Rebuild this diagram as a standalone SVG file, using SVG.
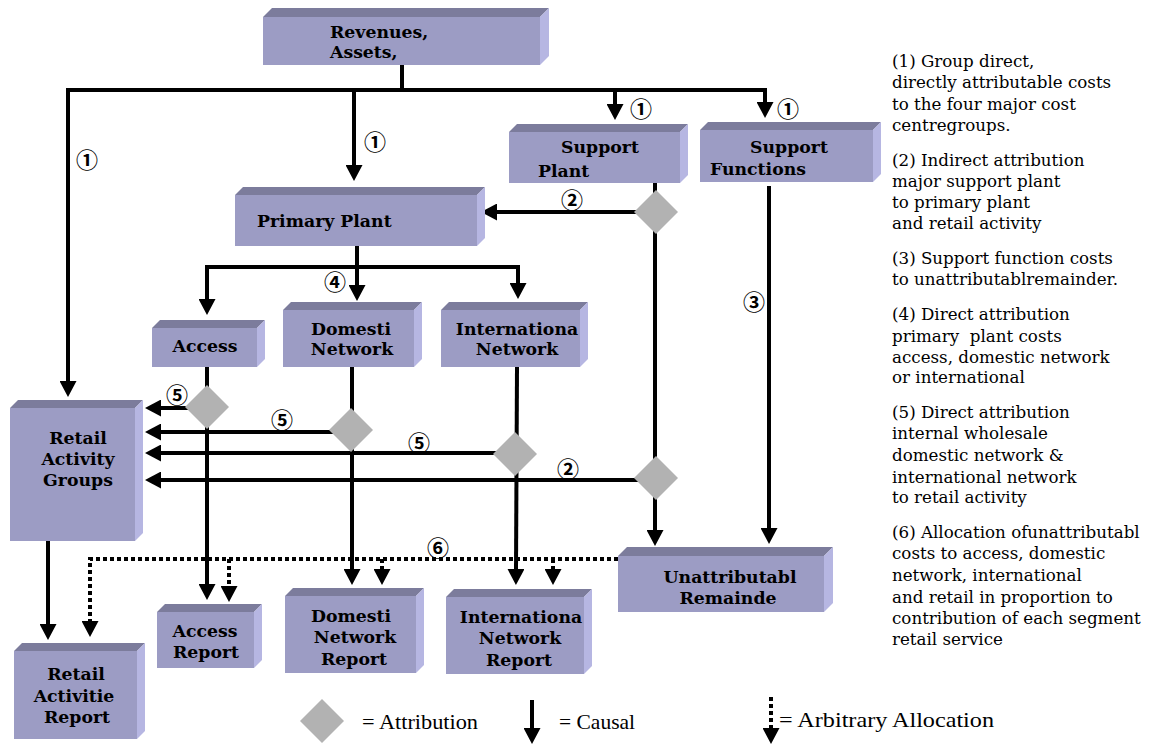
<svg xmlns="http://www.w3.org/2000/svg" width="1151" height="744" viewBox="0 0 1151 744">
<style>
.front{fill:#9c9cc4}
.top{fill:#7c7c9c}
.side{fill:#b6b6e2}
.lbl{font-family:"DejaVu Serif","Liberation Serif",serif;font-weight:bold;font-size:17.3px;fill:#000}
.ln{stroke:#000;stroke-width:4;fill:none;stroke-linejoin:miter}
.dot{stroke:#000;stroke-width:4;fill:none;stroke-dasharray:4 3}
.dia{fill:#b2b2b2}
.num{font-family:"Noto Sans CJK JP","DejaVu Sans",sans-serif;font-size:22px;font-weight:bold;fill:#000}
.note{font-family:"DejaVu Serif","Liberation Serif",serif;font-size:16.7px;fill:#000}
.leg{font-family:"Liberation Serif",serif;font-size:21.5px;fill:#000}
</style>
<defs>
<marker id="ah" markerWidth="16" markerHeight="17" refX="2" refY="8.5" orient="auto" markerUnits="userSpaceOnUse"><path d="M0,0 L16,8.5 L0,17 z" fill="#000"/></marker>
<polygon id="dm" points="0,-22 22,0 0,22 -22,0"/>
</defs>
<rect width="1151" height="744" fill="#fff"/>

<g id="connectors">
<path class="ln" d="M402,65 V90"/>
<path class="ln" d="M66,90 H767"/>
<path class="ln" d="M68,88 V383" marker-end="url(#ah)"/>
<path class="ln" d="M354,88 V167" marker-end="url(#ah)"/>
<path class="ln" d="M615,88 V106" marker-end="url(#ah)"/>
<path class="ln" d="M765,88 V104" marker-end="url(#ah)"/>
<path class="ln" d="M655,183 V532" marker-end="url(#ah)"/>
<path class="ln" d="M640,212 H495" marker-end="url(#ah)"/>
<path class="ln" d="M769,186 V530" marker-end="url(#ah)"/>
<path class="ln" d="M357,246 V287" marker-end="url(#ah)"/>
<path class="ln" d="M518,267 H207 V301" marker-end="url(#ah)"/>
<path class="ln" d="M518,265 V285" marker-end="url(#ah)"/>
<path class="ln" d="M207,367 V586" marker-end="url(#ah)"/>
<path class="ln" d="M190,408 H159" marker-end="url(#ah)"/>
<path class="ln" d="M352,367 V571" marker-end="url(#ah)"/>
<path class="ln" d="M335,432 H159" marker-end="url(#ah)"/>
<path class="ln" d="M517,367 L516,571" marker-end="url(#ah)"/>
<path class="ln" d="M500,453 H159" marker-end="url(#ah)"/>
<path class="ln" d="M640,480 H159" marker-end="url(#ah)"/>
<path class="ln" d="M48,541 V626" marker-end="url(#ah)"/>
<path class="dot" d="M618,559 H90 V623" marker-end="url(#ah)"/>
<path class="dot" d="M229,559 V588" marker-end="url(#ah)"/>
<path class="dot" d="M382,559 V571" marker-end="url(#ah)"/>
<path class="dot" d="M553,559 V571" marker-end="url(#ah)"/>
<text class="num" x="375" y="140" text-anchor="middle" dominant-baseline="central">①</text>
<text class="num" x="87" y="158" text-anchor="middle" dominant-baseline="central">①</text>
<text class="num" x="641" y="107" text-anchor="middle" dominant-baseline="central">①</text>
<text class="num" x="788" y="107" text-anchor="middle" dominant-baseline="central">①</text>
<text class="num" x="572" y="198" text-anchor="middle" dominant-baseline="central">②</text>
<text class="num" x="754" y="300" text-anchor="middle" dominant-baseline="central">③</text>
<text class="num" x="335" y="280" text-anchor="middle" dominant-baseline="central">④</text>
<text class="num" x="177" y="393" text-anchor="middle" dominant-baseline="central">⑤</text>
<text class="num" x="282" y="418" text-anchor="middle" dominant-baseline="central">⑤</text>
<text class="num" x="419" y="441" text-anchor="middle" dominant-baseline="central">⑤</text>
<text class="num" x="568" y="467" text-anchor="middle" dominant-baseline="central">②</text>
<text class="num" x="438" y="546" text-anchor="middle" dominant-baseline="central">⑥</text>
</g>

<g id="diamond-support-plant"><use href="#dm" class="dia" x="656" y="212"/></g>
<g id="diamond-access"><use href="#dm" class="dia" x="207" y="407"/></g>
<g id="diamond-domestic"><use href="#dm" class="dia" x="351" y="430"/></g>
<g id="diamond-international"><use href="#dm" class="dia" x="515" y="454"/></g>
<g id="diamond-support-retail"><use href="#dm" class="dia" x="656" y="478"/></g>

<g id="revenues">
<rect class="front" x="263" y="17" width="277" height="48"/>
<polygon class="top" points="263,17 272,8 549,8 540,17"/>
<polygon class="side" points="540,17 549,8 549,56 540,65"/>
<text class="lbl" x="330" y="38">Revenues,</text>
<text class="lbl" x="330" y="58">Assets,</text>
</g>

<g id="support-plant">
<rect class="front" x="509" y="132" width="171" height="51"/>
<polygon class="top" points="509,132 517,124 688,124 680,132"/>
<polygon class="side" points="680,132 688,124 688,175 680,183"/>
<text class="lbl" x="600" y="153" text-anchor="middle">Support</text>
<text class="lbl" x="538" y="177">Plant</text>
</g>

<g id="support-functions">
<rect class="front" x="700" y="130" width="173" height="52"/>
<polygon class="top" points="700,130 708,122 881,122 873,130"/>
<polygon class="side" points="873,130 881,122 881,174 873,182"/>
<text class="lbl" x="789" y="153" text-anchor="middle">Support</text>
<text class="lbl" x="710" y="175">Functions</text>
</g>

<g id="primary-plant">
<rect class="front" x="235" y="195" width="242" height="51"/>
<polygon class="top" points="235,195 243,187 485,187 477,195"/>
<polygon class="side" points="477,195 485,187 485,238 477,246"/>
<text class="lbl" x="257" y="227">Primary Plant</text>
</g>

<g id="access">
<rect class="front" x="152" y="328" width="105" height="39"/>
<polygon class="top" points="152,328 160,320 265,320 257,328"/>
<polygon class="side" points="257,328 265,320 265,359 257,367"/>
<text class="lbl" x="205" y="352" text-anchor="middle">Access</text>
</g>

<g id="domestic-network">
<rect class="front" x="283" y="310" width="131" height="57"/>
<polygon class="top" points="283,310 291,302 422,302 414,310"/>
<polygon class="side" points="414,310 422,302 422,359 414,367"/>
<text class="lbl" x="351" y="335" text-anchor="middle">Domesti</text>
<text class="lbl" x="352" y="355" text-anchor="middle">Network</text>
</g>

<g id="international-network">
<rect class="front" x="441" y="310" width="139" height="57"/>
<polygon class="top" points="441,310 449,302 588,302 580,310"/>
<polygon class="side" points="580,310 588,302 588,359 580,367"/>
<text class="lbl" x="517" y="335" text-anchor="middle">Internationa</text>
<text class="lbl" x="517" y="355" text-anchor="middle">Network</text>
</g>

<g id="retail-activity-groups">
<rect class="front" x="10" y="408" width="125" height="133"/>
<polygon class="top" points="10,408 18,400 143,400 135,408"/>
<polygon class="side" points="135,408 143,400 143,533 135,541"/>
<text class="lbl" x="78" y="444" text-anchor="middle">Retail</text>
<text class="lbl" x="78" y="465" text-anchor="middle">Activity</text>
<text class="lbl" x="78" y="486" text-anchor="middle">Groups</text>
</g>

<g id="unattributable-remainder">
<rect class="front" x="618" y="556" width="206" height="56"/>
<polygon class="top" points="618,556 627,547 833,547 824,556"/>
<polygon class="side" points="824,556 833,547 833,603 824,612"/>
<text class="lbl" x="730" y="583" text-anchor="middle">Unattributabl</text>
<text class="lbl" x="728" y="604" text-anchor="middle">Remainde</text>
</g>

<g id="access-report">
<rect class="front" x="157" y="612" width="97" height="56"/>
<polygon class="top" points="157,612 165,604 262,604 254,612"/>
<polygon class="side" points="254,612 262,604 262,660 254,668"/>
<text class="lbl" x="205" y="637" text-anchor="middle">Access</text>
<text class="lbl" x="206" y="658" text-anchor="middle">Report</text>
</g>

<g id="retail-activities-report">
<rect class="front" x="14" y="651" width="123" height="88"/>
<polygon class="top" points="14,651 22,643 145,643 137,651"/>
<polygon class="side" points="137,651 145,643 145,731 137,739"/>
<text class="lbl" x="76" y="680" text-anchor="middle">Retail</text>
<text class="lbl" x="74" y="702" text-anchor="middle">Activitie</text>
<text class="lbl" x="77" y="723" text-anchor="middle">Report</text>
</g>

<g id="domestic-network-report">
<rect class="front" x="285" y="596" width="131" height="77"/>
<polygon class="top" points="285,596 293,588 424,588 416,596"/>
<polygon class="side" points="416,596 424,588 424,665 416,673"/>
<text class="lbl" x="351" y="622" text-anchor="middle">Domesti</text>
<text class="lbl" x="355" y="643" text-anchor="middle">Network</text>
<text class="lbl" x="354" y="665" text-anchor="middle">Report</text>
</g>

<g id="international-network-report">
<rect class="front" x="446" y="597" width="138" height="77"/>
<polygon class="top" points="446,597 454,589 592,589 584,597"/>
<polygon class="side" points="584,597 592,589 592,666 584,674"/>
<text class="lbl" x="521" y="623" text-anchor="middle">Internationa</text>
<text class="lbl" x="520" y="644" text-anchor="middle">Network</text>
<text class="lbl" x="519" y="666" text-anchor="middle">Report</text>
</g>

<g id="notes">
<text class="note" x="892" y="67">(1) Group direct,</text>
<text class="note" x="892" y="88">directly attributable costs</text>
<text class="note" x="892" y="110">to the four major cost</text>
<text class="note" x="892" y="131">centregroups.</text>
<text class="note" x="892" y="166">(2) Indirect attribution</text>
<text class="note" x="892" y="187">major support plant</text>
<text class="note" x="892" y="208">to primary plant</text>
<text class="note" x="892" y="229">and retail activity</text>
<text class="note" x="892" y="264">(3) Support function costs</text>
<text class="note" x="892" y="285">to unattributablremainder.</text>
<text class="note" x="892" y="320">(4) Direct attribution</text>
<text class="note" x="892" y="342" xml:space="preserve">primary  plant costs</text>
<text class="note" x="892" y="363">access, domestic network</text>
<text class="note" x="892" y="383">or international</text>
<text class="note" x="892" y="418">(5) Direct attribution</text>
<text class="note" x="892" y="439">internal wholesale</text>
<text class="note" x="892" y="461">domestic network &amp;</text>
<text class="note" x="892" y="483">international network</text>
<text class="note" x="892" y="503">to retail activity</text>
<text class="note" x="892" y="538">(6) Allocation ofunattributabl</text>
<text class="note" x="892" y="559">costs to access, domestic</text>
<text class="note" x="892" y="581">network, international</text>
<text class="note" x="892" y="603">and retail in proportion to</text>
<text class="note" x="892" y="624">contribution of each segment</text>
<text class="note" x="892" y="645">retail service</text>
</g>

<g id="legend">
<use href="#dm" class="dia" x="322" y="721"/>
<text class="leg" x="362" y="729" textLength="116" lengthAdjust="spacingAndGlyphs">= Attribution</text>
<path class="ln" d="M532,700 V730" marker-end="url(#ah)"/>
<text class="leg" x="559" y="729">= Causal</text>
<path class="dot" d="M771,697 V730" marker-end="url(#ah)"/>
<text class="leg" x="779" y="727" textLength="215" lengthAdjust="spacingAndGlyphs">= Arbitrary Allocation</text>
</g>
</svg>
